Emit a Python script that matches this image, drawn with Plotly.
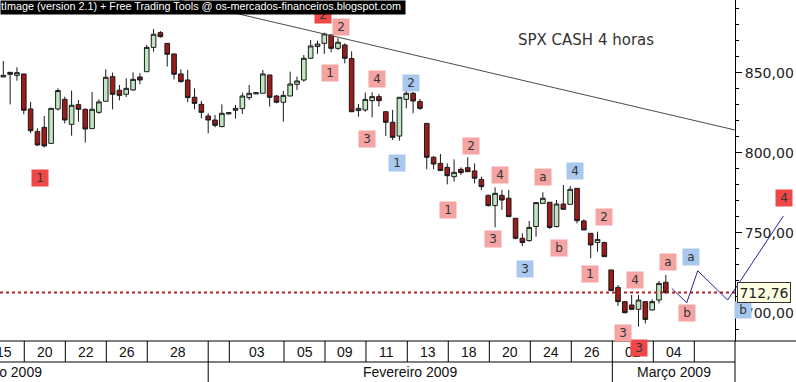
import plotly.graph_objects as go

# ---------------- data ----------------
opens = [847.5, 850.4, 848.5, 849.4, 827.5, 813.5, 816.0, 806.0, 827.5, 833.5,
         817.9, 830.2, 827.3, 815.2, 825.4, 832.3, 847.7, 839.2, 836.7, 839.4,
         847.5, 850.8, 866.0, 875.2, 868.5, 861.9, 849.4, 845.6, 834.8, 830.4,
         823.1, 820.6, 816.5, 824.4, 826.7, 827.7, 834.6, 836.9, 837.3, 848.75,
         835.6, 831.7, 835.6, 842.9, 845.6, 859.2, 866.5, 868.5, 873.75, 865.4,
         867.5, 859.0, 826.5, 826.9, 832.7, 835.2, 825.8, 819.2, 810.6, 833.5,
         837.3, 832.1, 818.5, 797.3, 793.5, 791.0, 785.2, 789.8, 790.8, 788.75,
         783.5, 773.5, 767.1, 773.5, 771.7, 759.2, 746.7, 745.2, 754.0, 768.5,
         769.2, 754.0, 768.1, 767.9, 777.9, 757.5, 749.8, 744.0, 744.0, 726.9,
         716.0, 707.1, 705.0, 702.3, 707.1, 701.9, 708.1, 719.2]
highs = [857.5, 850.4, 853.5, 849.4, 831.9, 815.4, 823.1, 827.9, 840.4, 835.2,
         839.0, 833.1, 827.8, 838.1, 833.5, 852.3, 850.2, 842.5, 846.7, 850.4,
         849.8, 867.5, 877.5, 876.2, 868.5, 861.9, 852.3, 851.9, 840.4, 832.5,
         824.8, 823.75, 830.4, 825.4, 830.0, 837.7, 842.5, 837.9, 851.9, 848.75,
         836.25, 838.75, 850.8, 847.7, 861.25, 870.6, 870.2, 875.2, 874.2, 871.7,
         868.5, 863.5, 830.6, 837.7, 837.9, 836.9, 825.8, 826.9, 834.8, 838.75,
         838.1, 833.75, 818.5, 798.1, 799.4, 793.5, 796.0, 791.0, 797.3, 793.5,
         785.2, 774.0, 778.5, 776.9, 776.9, 759.2, 749.8, 757.5, 769.0, 775.4,
         769.2, 770.6, 780.0, 779.4, 777.9, 758.5, 749.8, 750.8, 744.6, 726.9,
         717.5, 707.1, 711.25, 711.25, 707.1, 708.5, 720.0, 723.75]
lows = [847.3, 830.4, 845.2, 824.2, 812.3, 804.4, 803.5, 806.0, 826.5, 818.5,
        810.8, 819.6, 806.5, 815.2, 824.4, 832.3, 827.3, 832.9, 835.0, 838.75,
        842.9, 850.8, 863.3, 872.0, 854.0, 846.0, 844.0, 831.7, 827.3, 821.7,
        812.3, 816.0, 816.0, 824.2, 821.5, 824.4, 833.1, 836.9, 837.3, 829.0,
        831.0, 819.6, 835.6, 839.4, 844.6, 858.75, 861.9, 861.9, 862.9, 864.4,
        856.0, 825.5, 822.7, 825.8, 822.3, 829.0, 810.6, 808.1, 807.7, 827.9,
        824.8, 826.9, 789.8, 789.8, 789.0, 780.4, 782.1, 786.25, 788.3, 781.0,
        776.9, 766.5, 753.5, 764.4, 760.2, 746.0, 741.9, 744.6, 747.7, 768.5,
        752.5, 753.5, 764.8, 767.9, 756.0, 751.9, 734.2, 738.3, 735.2, 714.0,
        704.4, 699.8, 701.9, 691.5, 693.5, 701.5, 706.0, 711.9]
closes = [848.5, 849.2, 850.2, 826.7, 813.9, 805.0, 804.4, 827.9, 839.0, 820.6,
          829.8, 827.3, 815.0, 827.3, 831.9, 847.3, 836.7, 836.0, 840.4, 846.0,
          845.6, 866.0, 874.2, 872.7, 861.7, 849.2, 844.6, 834.6, 831.0, 825.4,
          820.6, 817.3, 824.8, 825.2, 827.9, 835.6, 837.3, 837.7, 849.4, 834.8,
          831.7, 836.0, 843.1, 845.0, 859.2, 866.9, 868.1, 874.4, 865.4, 869.2,
          859.2, 825.8, 827.9, 833.5, 835.2, 832.7, 819.2, 809.8, 834.8, 837.3,
          832.5, 827.9, 797.3, 793.1, 789.0, 785.8, 787.9, 787.7, 788.3, 784.2,
          779.0, 767.1, 774.8, 770.6, 760.2, 746.7, 744.0, 753.5, 769.0, 771.7,
          753.5, 768.1, 764.8, 777.3, 757.7, 751.9, 742.5, 746.0, 735.2, 714.0,
          707.1, 700.2, 702.3, 708.1, 696.0, 707.1, 718.5, 712.76]
candle_idx = list(range(len(closes)))

# wave labels: (text, x index, price)
red_labels = [("1", 5.37, 784.4), ("2", 46.81, 886.2), ("3", 93.07, 678.1), ("4", 114.3, 771.9)]
pink_labels = [("2", 49.37, 878.9), ("1", 47.83, 849.7), ("4", 54.7, 846.25), ("3", 53.25, 808.75),
               ("2", 68.48, 804.4), ("4", 72.72, 786.25), ("a", 79.02, 785.0), ("1", 65.11, 764.4),
               ("3", 71.7, 746.25), ("b", 81.32, 740.4), ("2", 87.95, 760.0), ("1", 85.9, 724.4),
               ("4", 92.56, 720.9), ("3", 90.73, 687.8), ("a", 97.32, 731.6), ("b", 100.1, 700.0)]
blue_labels = [("2", 59.69, 843.75), ("1", 57.64, 793.75), ("4", 83.7, 788.75), ("3", 76.4, 727.5),
               ("a", 100.69, 735.0), ("b", 108.3, 701.9)]

# projection path and trendline
proj_x = [97.87, 100.06, 101.67, 106.06, 114.2]
proj_y = [715.4, 706.4, 726.4, 708.1, 760.6]
trend_x = [25.7, 107.1]
trend_y = [895.6, 814.4]

# date axis
date_bounds = [-2.93, 3.07, 9.08, 15.08, 21.08, 30.0, 33.09, 41.1, 47.1, 53.1, 59.15,
               65.15, 71.16, 77.16, 83.16, 89.17, 95.17, 101.17, 107.13]
date_labels = ["15", "20", "22", "26", "28", "", "03", "05", "09", "11", "13",
               "18", "20", "24", "26", "02", "04", ""]
month_bounds = [30.0, 89.17]
month_labels = [("Janeiro 2009", -0.3), ("Fevereiro 2009", 59.6), ("Março 2009", 98.15)]

y_ticks = [700, 750, 800, 850]

# ---------------- layout constants ----------------
W, H = 796, 382
MB = 41
PH = H - MB
XR = [-0.483, 116.06]
YR = [682.5, 895.6]
AXIS_X = 107.13
px_per_unit = PH / (YR[1] - YR[0])
axis_pos = (AXIS_X - XR[0]) / (XR[1] - XR[0])

fig = go.Figure()

fig.add_trace(go.Scatter(x=trend_x, y=trend_y, mode="lines",
                         line=dict(color="#4a4a4a", width=1), hoverinfo="skip"))

fig.add_trace(go.Scatter(x=[XR[0], AXIS_X], y=[closes[-1], closes[-1]], mode="lines",
                         line=dict(color="#B22222", width=2, dash="dot"), hoverinfo="skip"))

fig.add_trace(go.Candlestick(
    x=candle_idx, open=opens, high=highs, low=lows, close=closes,
    increasing=dict(line=dict(color="#1a1a1a", width=1), fillcolor="#C2E6C2"),
    decreasing=dict(line=dict(color="#1a1a1a", width=1), fillcolor="#9B1B1B"),
    whiskerwidth=0,
))

fig.add_trace(go.Scatter(x=proj_x, y=proj_y, mode="lines",
                         line=dict(color="#23239A", width=1), hoverinfo="skip"))

annotations = []
shapes = []

def add_label(text, x, y, color):
    yshift = 0
    if y < YR[0]:
        yshift = (y - YR[0]) * px_per_unit
        y = YR[0]
    annotations.append(dict(x=x, y=y, xref="x", yref="y", text=text, showarrow=False,
                            bgcolor=color, width=16, height=16, borderpad=0,
                            yshift=yshift,
                            font=dict(family="DejaVu Sans", size=12, color="#333333")))

for t, x, y in red_labels:
    add_label(t, x, y, "#F04848")
for t, x, y in pink_labels:
    add_label(t, x, y, "#F5A4A4")
for t, x, y in blue_labels:
    add_label(t, x, y, "#A8C8EE")

# price box
annotations.append(dict(x=axis_pos + 2 / W, y=closes[-1], xref="paper", yref="y",
                        xanchor="left", yanchor="middle",
                        text=f"{closes[-1]:.2f}".replace(".", ","), showarrow=False,
                        bgcolor="#FFFFE4", bordercolor="#333333", borderwidth=1,
                        borderpad=1, width=50, height=17,
                        font=dict(family="DejaVu Sans", size=14, color="#222222")))

# title
annotations.append(dict(x=85.3, y=870.6, xref="x", yref="y", text="SPX CASH 4 horas",
                        showarrow=False,
                        font=dict(family="DejaVu Sans", size=15, color="#333333")))

# banner (drawn as annotations so it sits over the wave labels)
annotations.append(dict(x=0, y=1, xref="paper", yref="paper", xanchor="left", yanchor="top",
                        text=" ", showarrow=False, bgcolor="black", width=404, height=13,
                        borderpad=0, font=dict(size=10)))
annotations.append(dict(x=403 / W, y=1 - 6.5 / PH, xref="paper", yref="paper",
                        xanchor="right", yanchor="middle", showarrow=False,
                        text="tImage (version 2.1) + Free Trading Tools @ os-mercados-financeiros.blogspot.com",
                        font=dict(family="Liberation Sans", size=10.8, color="white")))

# date axis
row1 = -21 / PH
row2 = -41 / PH
shapes.append(dict(type="line", xref="paper", yref="paper", x0=0, x1=1, y0=0, y1=0,
                   line=dict(color="black", width=1)))
shapes.append(dict(type="line", xref="x", yref="paper", x0=XR[0], x1=AXIS_X, y0=row1, y1=row1,
                   line=dict(color="black", width=1)))
shapes.append(dict(type="line", xref="x", yref="paper", x0=AXIS_X, x1=AXIS_X, y0=0, y1=row2,
                   line=dict(color="black", width=1)))
for b in date_bounds[1:-1]:
    if b in month_bounds:
        continue
    shapes.append(dict(type="line", xref="x", yref="paper", x0=b, x1=b, y0=0, y1=row1,
                       line=dict(color="black", width=1)))
for b in month_bounds:
    shapes.append(dict(type="line", xref="x", yref="paper", x0=b, x1=b, y0=0, y1=row2,
                       line=dict(color="black", width=1)))
date_annots = []
for i, lab in enumerate(date_labels):
    if not lab:
        continue
    c = (date_bounds[i] + date_bounds[i + 1]) / 2
    date_annots.append(dict(x=c, y=-10.5 / PH, xref="x", yref="paper", text=lab,
                            showarrow=False, yanchor="middle",
                            font=dict(family="Liberation Sans", size=14, color="#111111")))
for lab, c in month_labels:
    date_annots.append(dict(x=c, y=-31 / PH, xref="x", yref="paper", text=lab,
                            showarrow=False, yanchor="middle",
                            font=dict(family="Liberation Sans", size=14, color="#111111")))
# date texts first so the wave labels drawn over the axis stay on top
annotations = date_annots + annotations

fig.update_layout(
    width=W, height=H,
    margin=dict(l=0, r=0, t=0, b=MB, pad=0),
    paper_bgcolor="white", plot_bgcolor="white",
    showlegend=False,
    separators=",.",
    xaxis=dict(range=XR, visible=False, rangeslider=dict(visible=False), fixedrange=True),
    yaxis=dict(range=YR, side="right", anchor="free", position=axis_pos,
               showline=True, linecolor="black", linewidth=1, showgrid=False, zeroline=False,
               ticks="outside", ticklen=6, tickcolor="black", tickvals=y_ticks,
               tickformat=".2f",
               minor=dict(dtick=10, ticks="outside", ticklen=3, tickcolor="black"),
               tickfont=dict(family="DejaVu Sans", size=14, color="#222222")),
    boxgap=0.1, boxgroupgap=0.25,
    annotations=annotations,
    shapes=shapes,
)

fig.write_html("out.html", config={"displayModeBar": False},
               post_script="document.body.style.margin='0px';document.body.style.padding='0px';")
